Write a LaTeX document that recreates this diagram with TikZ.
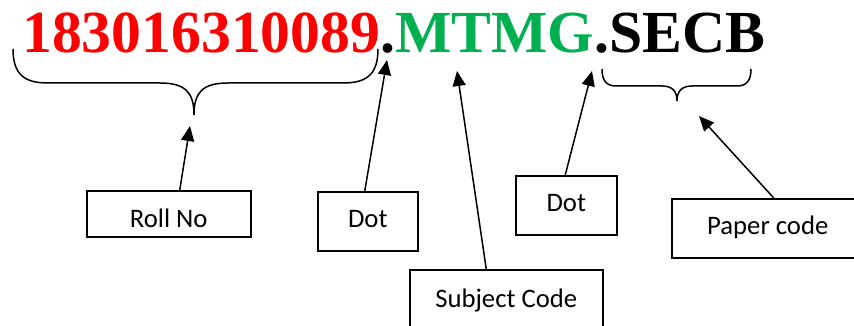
\documentclass[tikz,border=0pt]{standalone}
\usepackage{fontspec}
\setmainfont{Liberation Serif}
\newfontfamily\boxfont{Carlito}
\usetikzlibrary{arrows.meta}
\definecolor{rollred}{RGB}{255,0,0}
\definecolor{subjgreen}{RGB}{0,176,80}
\newcommand{\boxtext}[2]{\raisebox{-#1pt}[0pt][0pt]{#2}}
\tikzset{
  labelbox/.style={draw=black, line width=1.5pt, font=\boxfont\fontsize{26.7}{30}\selectfont, inner sep=0pt, anchor=north west},
  pointer/.style={line width=1.5pt, -{Triangle[length=15pt,width=13pt]}},
  bracepath/.style={line width=1.5pt},
  codetext/.style={font=\bfseries\fontsize{59.7}{64}\selectfont, inner sep=0pt, anchor=base west}
}
\begin{document}
\begin{tikzpicture}[x=1pt,y=-1pt]
\useasboundingbox (0,0) rectangle (854,326);
% code string
\node[codetext] (code) at (22,53) {\textcolor{rollred}{183016310089}.\textcolor{subjgreen}{MTMG}.SECB};
% braces
\draw[bracepath] (13,49) .. controls (13,75) and (25,83) .. (48,83) -- (160,83)
  .. controls (185,83) and (194,92) .. (194,115);
\draw[bracepath] (378,49) .. controls (378,75) and (366,83) .. (343,83) -- (228,83)
  .. controls (203,83) and (194,92) .. (194,115);
\draw[bracepath] (602,69) .. controls (602,80) and (606,86) .. (616,86) -- (662,86)
  .. controls (672,86) and (677,91) .. (677,101);
\draw[bracepath] (751,69) .. controls (751,80) and (747,86) .. (737,86) -- (692,86)
  .. controls (682,86) and (677,91) .. (677,101);
% target points
\coordinate (rolltip) at (190,126);
\coordinate (dotonetip) at (387,60);
\coordinate (subjtip) at (457,71);
\coordinate (dottwotip) at (592,71);
\coordinate (papertip) at (699,116);
% boxes
\node[labelbox, minimum width=164pt, minimum height=46pt] (roll) at (86,190) {\boxtext{14}{Roll No}};
\node[labelbox, minimum width=100pt, minimum height=59pt] (dotone) at (317,191) {\boxtext{6.5}{Dot}};
\node[labelbox, minimum width=101pt, minimum height=59pt] (dottwo) at (515,175) {\boxtext{6.5}{Dot}};
\node[labelbox, minimum width=193pt, minimum height=58pt] (subj) at (409,269) {\boxtext{8.5}{Subject Code}};
\node[labelbox, minimum width=192pt, minimum height=59pt] (paper) at (671,198) {\boxtext{6}{Paper code}};
% arrows
\draw[pointer] ([xshift=11pt]roll.north) -- (rolltip);
\draw[pointer] ([xshift=-3pt]dotone.north) -- (dotonetip);
\draw[pointer] ([xshift=-20pt]subj.north) -- (subjtip);
\draw[pointer] ([xshift=-1pt]dottwo.north) -- (dottwotip);
\draw[pointer] ([xshift=6pt]paper.north) -- (papertip);
\end{tikzpicture}
\end{document}
